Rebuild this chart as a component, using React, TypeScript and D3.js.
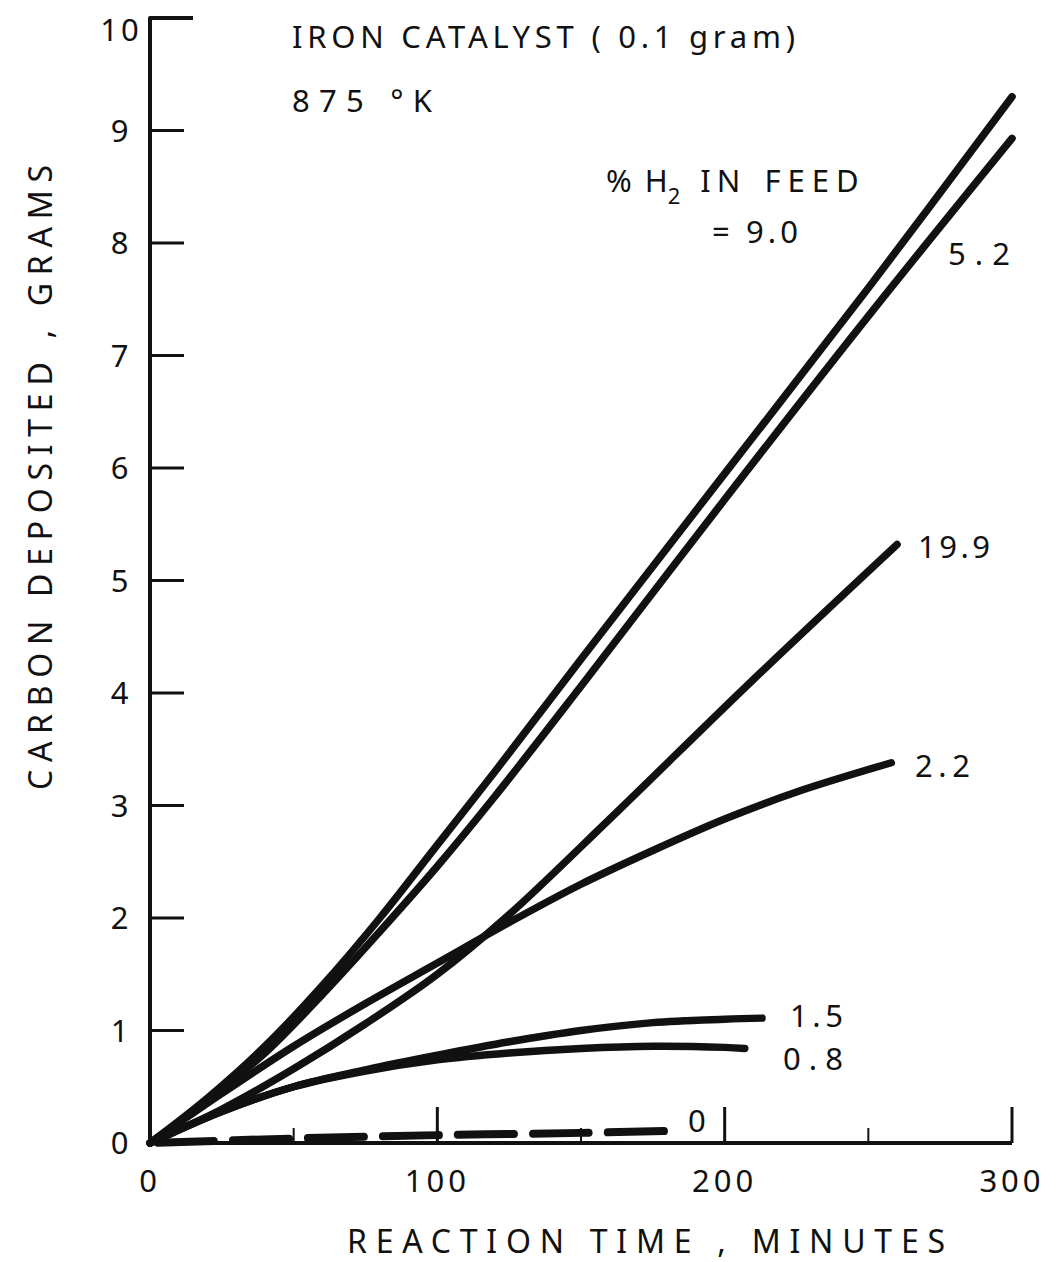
import React from "react";
import * as d3 from "d3";

const W = 1057;
const H = 1262;

// x: reaction time (minutes), y: carbon deposited (grams)
const xTicks = [0, 100, 200, 300];
const xMinorTicks = [50, 150, 250];
const yTicks = [0, 1, 2, 3, 4, 5, 6, 7, 8, 9, 10];

const s90 = [[0, 0], [20, 0.4], [40, 0.86], [60, 1.4], [80, 2.0], [100, 2.65], [120, 3.3], [150, 4.3], [200, 5.95], [250, 7.6], [300, 9.3]];
const s52 = [[0, 0], [20, 0.38], [40, 0.8], [60, 1.32], [80, 1.88], [100, 2.46], [120, 3.08], [150, 4.06], [200, 5.72], [250, 7.35], [300, 8.93]];
const s199 = [[0, 0], [25, 0.3], [50, 0.66], [75, 1.06], [100, 1.5], [125, 2.03], [160, 2.88], [210, 4.12], [260, 5.32]];
const s22 = [[0, 0], [25, 0.44], [50, 0.86], [75, 1.24], [100, 1.6], [125, 1.96], [150, 2.3], [175, 2.6], [200, 2.88], [225, 3.12], [258, 3.38]];
const s15 = [[0, 0], [25, 0.28], [50, 0.5], [75, 0.65], [100, 0.78], [125, 0.9], [150, 1.0], [175, 1.07], [200, 1.1], [213, 1.11]];
const s08 = [[0, 0], [25, 0.28], [50, 0.5], [75, 0.64], [100, 0.74], [125, 0.8], [150, 0.84], [175, 0.86], [200, 0.85], [207, 0.84]];
const s0 = [[0, 0], [50, 0.04], [100, 0.07], [150, 0.09], [185, 0.11]];

const solidSeries = [s90, s52, s199, s22, s15, s08];

const FONT = "'Noto Sans', 'DejaVu Sans', sans-serif";

export default function App() {
  const x = d3.scaleLinear().domain([0, 300]).range([150, 1012]);
  const y = d3.scaleLinear().domain([0, 10]).range([1143, 18]);
  const line = d3
    .line<number[]>()
    .x((d) => x(d[0]))
    .y((d) => y(d[1]))
    .curve(d3.curveCatmullRom.alpha(0.5));

  const txt = (props: any, s: string) => (
    <text fontFamily={FONT} fill="#111" {...props}>
      {s}
    </text>
  );

  return (
    <svg
      width={W}
      height={H}
      style={{ position: "absolute", left: 0, top: 0, background: "#fff" }}
    >
      <rect width={W} height={H} fill="#fff" />
      {/* axes */}
      <path
        d={`M${x(0)},${y(0) + 2} L${x(0)},${y(10)} L${x(0) + 43},${y(10)}`}
        fill="none"
        stroke="#111"
        strokeWidth={4}
        strokeLinejoin="round"
      />
      <line x1={x(0) - 2} x2={x(300)} y1={y(0)} y2={y(0)} stroke="#111" strokeWidth={4} />
      {yTicks.slice(1, 10).map((t) => (
        <line key={"yt" + t} x1={x(0)} x2={x(0) + 34} y1={y(t)} y2={y(t)} stroke="#111" strokeWidth={3} />
      ))}
      {xTicks.slice(1).map((t) => (
        <line key={"xt" + t} x1={x(t)} x2={x(t)} y1={y(0)} y2={y(0) - 36} stroke="#111" strokeWidth={3} />
      ))}
      {xMinorTicks.map((t) => (
        <line key={"xm" + t} x1={x(t)} x2={x(t)} y1={y(0)} y2={y(0) - 15} stroke="#111" strokeWidth={2} />
      ))}
      {/* tick labels */}
      {yTicks.map((t) =>
        <text key={"yl" + t} x={121} y={Math.max(y(t) + 11, 41)} textAnchor="middle" fontFamily={FONT} fontSize={31} fill="#111" letterSpacing={3}>
          {String(t)}
        </text>
      )}
      {xTicks.map((t) =>
        <text key={"xl" + t} x={x(t)} y={1192} textAnchor="middle" fontFamily={FONT} fontSize={31} fill="#111" letterSpacing={4}>
          {String(t)}
        </text>
      )}
      {/* curves */}
      {solidSeries.map((s, i) => (
        <path key={"s" + i} d={line(s as any) || ""} fill="none" stroke="#111" strokeWidth={7.5} strokeLinecap="round" />
      ))}
      <path
        d={line(s0 as any) || ""}
        fill="none"
        stroke="#111"
        strokeWidth={8}
        strokeLinecap="round"
        strokeDasharray="56 19"
        strokeDashoffset={-8}
      />
      {/* titles */}
      {txt({ x: 292, y: 48, fontSize: 31, textLength: 503, lengthAdjust: "spacing" }, "IRON  CATALYST  ( 0.1  gram)")}
      {txt({ x: 292, y: 112, fontSize: 31, textLength: 140, lengthAdjust: "spacing" }, "875 °K")}
      <text x={606} y={192} fontFamily={FONT} fontSize={31} fill="#111">
        <tspan letterSpacing={1}>%</tspan>
        <tspan dx={12}>H</tspan>
        <tspan dy={12} fontSize={22}>2</tspan>
        <tspan dy={-12} dx={20} letterSpacing={6}>IN</tspan>
        <tspan dx={18} letterSpacing={7}>FEED</tspan>
      </text>
      {txt({ x: 712, y: 243, fontSize: 31, textLength: 86, lengthAdjust: "spacing" }, "= 9.0")}
      {txt({ x: 948, y: 265, fontSize: 31, textLength: 62, lengthAdjust: "spacing" }, "5.2")}
      {txt({ x: 918, y: 558, fontSize: 31, textLength: 72, lengthAdjust: "spacing" }, "19.9")}
      {txt({ x: 915, y: 777, fontSize: 31, textLength: 55, lengthAdjust: "spacing" }, "2.2")}
      {txt({ x: 790, y: 1027, fontSize: 31, textLength: 53, lengthAdjust: "spacing" }, "1.5")}
      {txt({ x: 783, y: 1070, fontSize: 31, textLength: 60, lengthAdjust: "spacing" }, "0.8")}
      {txt({ x: 688, y: 1132, fontSize: 31 }, "0")}
      {/* axis titles */}
      {txt({ x: 347, y: 1253, fontSize: 32, textLength: 598, lengthAdjust: "spacing" }, "REACTION  TIME , MINUTES")}
      <text
        transform={`translate(52,790) rotate(-90)`}
        fontFamily={FONT}
        fontSize={32}
        fill="#111"
        textLength={625}
        lengthAdjust="spacing"
      >
        CARBON  DEPOSITED , GRAMS
      </text>
    </svg>
  );
}
